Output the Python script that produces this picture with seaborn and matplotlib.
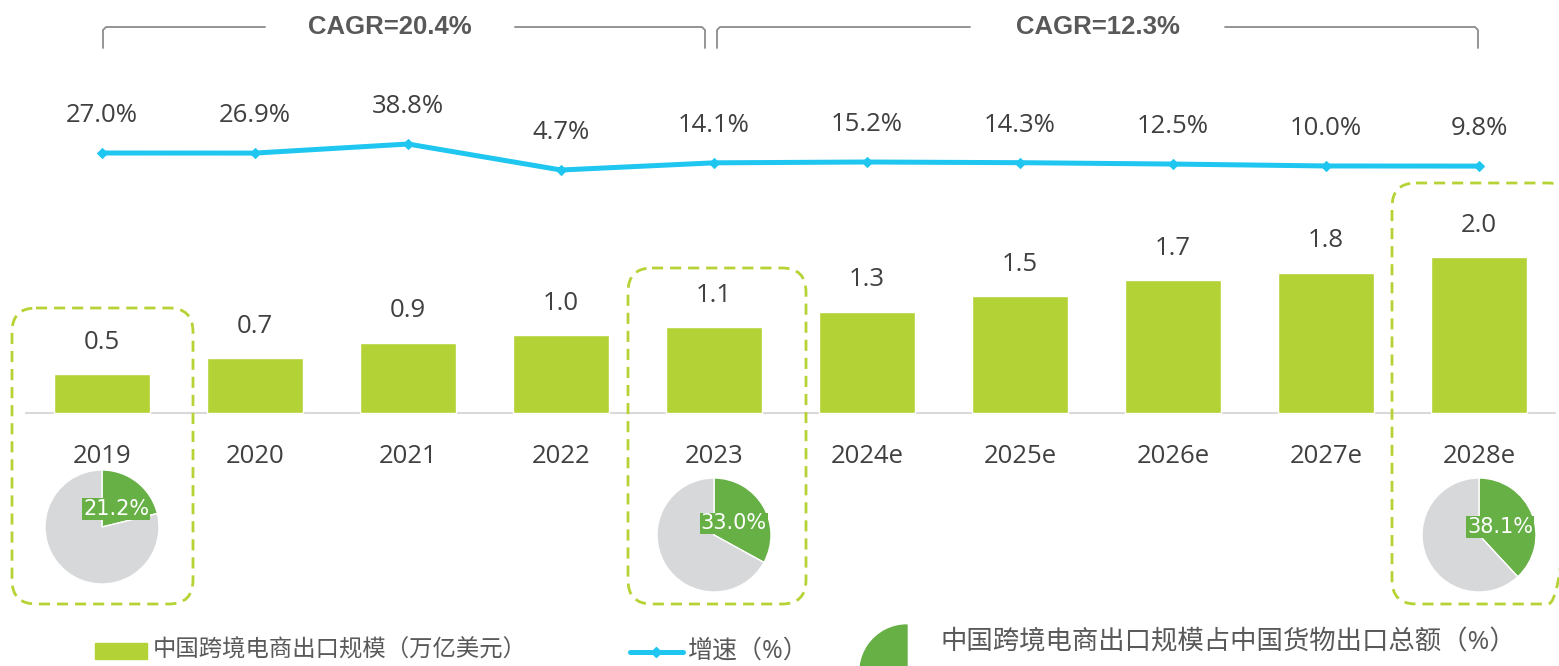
import matplotlib
matplotlib.use('Agg')
from matplotlib import pyplot as plt
from matplotlib.patches import FancyBboxPatch, Rectangle, Wedge
import seaborn as sns

# data
years = ['2019', '2020', '2021', '2022', '2023', '2024e', '2025e', '2026e', '2027e', '2028e']
export_scale = [0.5, 0.7, 0.9, 1.0, 1.1, 1.3, 1.5, 1.7, 1.8, 2.0]
growth = [27.0, 26.9, 38.8, 4.7, 14.1, 15.2, 14.3, 12.5, 10.0, 9.8]
pie_years = ['2019', '2023', '2028e']
pie_share = [21.2, 33.0, 38.1]
cagr_labels = ['CAGR=20.4%', 'CAGR=12.3%']
legend_labels = ['中国跨境电商出口规模（万亿美元）', '增速（%）', '中国跨境电商出口规模占中国货物出口总额（%）']

BAR = '#b2d235'
LINE = '#1ec6f0'
PIE_G = '#66b046'
PIE_N = '#d7d8da'
TXT = '#404040'
BOX = '#b5d334'

W, H = 1559, 666

sns.set_style('white')
plt.rcParams['font.family'] = ['Open Sans', 'Noto Sans CJK SC', 'DejaVu Sans']

fig = plt.figure(figsize=(W / 100, H / 100), dpi=100)
ax = fig.add_axes([0, 0, 1, 1])
sns.barplot(x=years, y=export_scale, color=BAR, width=0.63, saturation=1, ax=ax)
ax.set_xlim(-102 / 153, (W - 102) / 153)
ax.set_ylim(-253 / 78, 413 / 78)
ax.axis('off')
ax.axhline(0, xmin=26 / W, xmax=1555 / W, color='#d9d9d9', lw=1.5, zorder=0)
for i, v in enumerate(export_scale):
    ax.annotate(f'{v:.1f}', (i, v), xytext=(0, 23), textcoords='offset points',
                ha='center', va='center', fontsize=18.5, color=TXT)
    ax.annotate(years[i], (i, 0), xytext=(0, -31), textcoords='offset points',
                ha='center', va='center', fontsize=18.5, color=TXT)

# growth line on its own scale
ax2 = ax.twinx()
sns.lineplot(x=list(range(len(years))), y=growth, color=LINE, lw=3.6, marker='D',
             markersize=5, markeredgecolor=LINE, ax=ax2)
ax2.set_ylim(4.7 - 496 / 0.762, 4.7 + 170 / 0.762)
ax2.axis('off')
for i, g in enumerate(growth):
    ax2.annotate(f'{g:.1f}%', (i, g), xytext=(0, 27), textcoords='offset points',
                 ha='center', va='center', fontsize=18.5, color=TXT)

# pixel overlay for decorations
ov = fig.add_axes([0, 0, 1, 1], zorder=3)
ov.set_xlim(0, W)
ov.set_ylim(H, 0)
ov.axis('off')
ov.patch.set_alpha(0)

# dashed highlight boxes
for x0, y0, x1, y1 in [(12, 308, 193, 604), (628, 268, 806, 604), (1392, 183, 1572, 604)]:
    ov.add_patch(FancyBboxPatch((x0, y0), x1 - x0, y1 - y0,
                                boxstyle='round,pad=0,rounding_size=24',
                                fill=False, ec=BOX, lw=2, ls=(0, (4, 2.5))))

# CAGR brackets
for (xa, xb, ga, gb), lab in zip([(103, 705, 265, 515), (717, 1478, 970, 1225)], cagr_labels):
    ov.plot([xa, xa, xa + 3, ga], [48, 30, 27, 27], color='#8c8c8c', lw=1.3)
    ov.plot([gb, xb - 3, xb, xb], [27, 27, 30, 48], color='#8c8c8c', lw=1.3)
    ov.text((ga + gb) / 2, 27, lab, ha='center', va='center', fontsize=18.5,
            fontweight='bold', color='#595959', family=['Liberation Sans'])

# pies
pie_y = [527, 535, 535]
r = 57
for yr, share, py in zip(pie_years, pie_share, pie_y):
    cx = ax.transData.transform((years.index(yr), 0))[0]
    pax = fig.add_axes([(cx - r) / W, (H - py - r) / H, 2 * r / W, 2 * r / H], zorder=4)
    wedges, texts, autotexts = pax.pie([share, 100 - share], colors=[PIE_G, PIE_N],
                                       startangle=90, counterclock=False,
                                       autopct='%.1f%%', pctdistance=0.4,
                                       textprops=dict(color='white', fontsize=15,
                                                      family=['DejaVu Sans']))
    autotexts[1].set_visible(False)
    autotexts[0].set_bbox(dict(facecolor=PIE_G, edgecolor='none', pad=0.6))
    pax.set_xlim(-1, 1)
    pax.set_ylim(-1, 1)
    pax.set_aspect('equal')

# legend
ov.add_patch(Rectangle((95, 643), 52, 16, color=BAR))
ov.text(153, 651, legend_labels[0], va='center', fontsize=16.8, color='#595959')
ov.plot([630, 683], [652, 652], color=LINE, lw=3.6)
ov.plot([656], [652], marker='D', markersize=5, color=LINE)
ov.text(688, 651, legend_labels[1], va='center', fontsize=18, color='#595959')
ov.add_patch(Wedge((907, 672), 47, 160, 270, color=PIE_G))
ov.text(940, 643, legend_labels[2], va='center', fontsize=19, color='#595959')

fig.savefig('out.png', dpi=100)
